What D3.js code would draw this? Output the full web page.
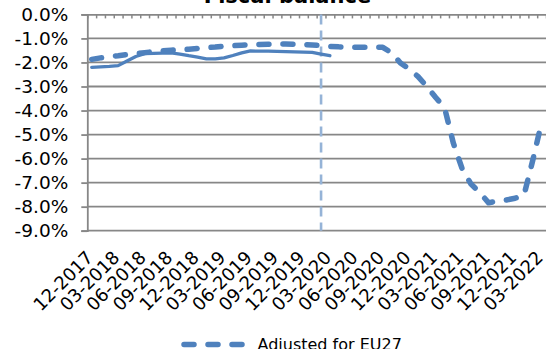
<!DOCTYPE html>
<html>
<head>
<meta charset="utf-8">
<script src="https://cdn.jsdelivr.net/npm/d3@7"></script>
<style>
  html, body { margin: 0; padding: 0; background: #fff; }
  svg { display: block; font-family: "DejaVu Sans", Verdana, sans-serif; }
</style>
</head>
<body>
<svg id="chart" width="546" height="349"></svg>
<script>
// Monthly categories, Dec 2017 – Mar 2022
const months = [
  "12-2017","01-2018","02-2018","03-2018","04-2018","05-2018","06-2018","07-2018","08-2018","09-2018","10-2018","11-2018",
  "12-2018","01-2019","02-2019","03-2019","04-2019","05-2019","06-2019","07-2019","08-2019","09-2019","10-2019","11-2019",
  "12-2019","01-2020","02-2020","03-2020","04-2020","05-2020","06-2020","07-2020","08-2020","09-2020","10-2020","11-2020",
  "12-2020","01-2021","02-2021","03-2021","04-2021","05-2021","06-2021","07-2021","08-2021","09-2021","10-2021","11-2021",
  "12-2021","01-2022","02-2022","03-2022"
];

// Labels shown on the category axis (quarterly)
const tickLabels = [
  "12-2017","03-2018","06-2018","09-2018","12-2018","03-2019","06-2019","09-2019","12-2019",
  "03-2020","06-2020","09-2020","12-2020","03-2021","06-2021","09-2021","12-2021","03-2022"
];

// Fiscal balance, % of GDP (EU28 basis, until the UK's exit)
const balance = [
  -2.20,-2.18,-2.16,-2.13,-1.94,-1.75,-1.63,-1.62,-1.61,-1.60,-1.65,-1.72,
  -1.78,-1.85,-1.85,-1.81,-1.71,-1.60,-1.52,-1.53,-1.53,-1.54,-1.55,-1.56,
  -1.57,-1.58,-1.65,-1.72
];

// Fiscal balance adjusted for EU27, % of GDP
const adjusted = [
  -1.87,-1.81,-1.76,-1.72,-1.67,-1.63,-1.59,-1.55,-1.52,-1.49,-1.47,-1.45,
  -1.42,-1.38,-1.36,-1.32,-1.30,-1.28,-1.26,-1.25,-1.24,-1.23,-1.23,-1.24,
  -1.25,-1.27,-1.30,-1.33,-1.35,-1.36,-1.37,-1.37,-1.37,-1.37,-1.60,-2.02,
  -2.27,-2.59,-3.00,-3.46,-3.88,-5.36,-6.43,-7.06,-7.42,-7.84,-7.76,-7.72,
  -7.65,-7.53,-6.07,-4.50
];

// Month of the UK's exit, marked by a vertical line
const exitMonth = "02-2020";

const yTicks = [0,-1,-2,-3,-4,-5,-6,-7,-8,-9];

const svg = d3.select("#chart");
const plotLeft = 87.3, plotRight = 546, plotTop = 14.4, plotBottom = 230.7;

const x = d3.scaleBand().domain(months).range([plotLeft, plotRight]).padding(0);
const xc = m => x(m) + x.bandwidth() / 2;
const y = d3.scaleLinear().domain([-9, 0]).range([plotBottom, plotTop]);

// Title (runs off the top edge)
svg.append("text")
  .attr("x", 287.5).attr("y", 2.5)
  .attr("text-anchor", "middle")
  .attr("font-size", 21).attr("font-weight", "bold")
  .text("Fiscal balance");

// Horizontal gridlines
svg.append("g").selectAll("line")
  .data(yTicks.filter(d => d !== 0))
  .join("line")
  .attr("x1", plotLeft).attr("x2", plotRight)
  .attr("y1", d => y(d)).attr("y2", d => y(d))
  .attr("stroke", "#878787").attr("stroke-width", 1.8);

// Value axis
const yAxis = svg.append("g")
  .attr("transform", `translate(${plotLeft},0)`)
  .call(d3.axisLeft(y).tickValues(yTicks).tickSize(6).tickPadding(13)
    .tickFormat(d => d.toFixed(1) + "%"));
yAxis.select(".domain").attr("stroke", "#878787").attr("stroke-width", 1.8);
yAxis.selectAll(".tick line").attr("stroke", "#878787").attr("stroke-width", 1.8);
yAxis.selectAll("text").attr("font-size", 18.5).attr("fill", "#000")
  .attr("font-family", "DejaVu Sans, Verdana, sans-serif");

// Category axis line at 0% with monthly tick marks between categories
const edge = d3.scaleLinear().domain([0, months.length]).range([plotLeft, plotRight]);
const xAxis = svg.append("g")
  .attr("transform", `translate(0,${plotTop})`)
  .call(d3.axisBottom(edge).tickValues(d3.range(months.length + 1)).tickSize(4)
    .tickSizeOuter(0).tickFormat(""));
xAxis.select(".domain").attr("stroke", "#878787").attr("stroke-width", 1.8);
xAxis.selectAll(".tick line").attr("stroke", "#878787").attr("stroke-width", 1.5);

// Category labels below the plot, rotated
const labelAxis = svg.append("g")
  .attr("transform", `translate(0,${plotBottom})`)
  .call(d3.axisBottom(x).tickValues(tickLabels).tickSize(0).tickPadding(0));
labelAxis.select(".domain").remove();
labelAxis.selectAll("text")
  .attr("font-size", 18).attr("fill", "#000")
  .attr("font-family", "DejaVu Sans, Verdana, sans-serif")
  .attr("text-anchor", "end")
  .attr("dy", null).attr("y", 0)
  .attr("transform", "translate(2.5,28) rotate(-45)");

// Vertical marker for the exit month
svg.append("line")
  .attr("x1", xc(exitMonth)).attr("x2", xc(exitMonth))
  .attr("y1", y(0)).attr("y2", y(-9))
  .attr("stroke", "#95b3d7").attr("stroke-width", 2.6)
  .attr("stroke-dasharray", "10,6");

// Unadjusted series
const line = d3.line()
  .x((d, i) => xc(months[i]))
  .y(d => y(d));

svg.append("path")
  .datum(balance)
  .attr("d", line)
  .attr("fill", "none")
  .attr("stroke", "#4f81bd").attr("stroke-width", 3.3)
  .attr("stroke-linejoin", "round").attr("stroke-linecap", "round");

// Adjusted series
svg.append("path")
  .datum(adjusted)
  .attr("d", line)
  .attr("fill", "none")
  .attr("stroke", "#4f81bd").attr("stroke-width", 5.5)
  .attr("stroke-linejoin", "round").attr("stroke-linecap", "round")
  .attr("stroke-dasharray", "10,14");

// Legend
const legend = svg.append("g");
legend.append("line")
  .attr("x1", 184).attr("x2", 250)
  .attr("y1", 344.5).attr("y2", 344.5)
  .attr("stroke", "#4f81bd").attr("stroke-width", 5.5)
  .attr("stroke-linecap", "round")
  .attr("stroke-dasharray", "10,14");
legend.append("text")
  .attr("x", 257.5).attr("y", 350)
  .attr("font-size", 16)
  .text("Adjusted for EU27");
</script>
</body>
</html>
